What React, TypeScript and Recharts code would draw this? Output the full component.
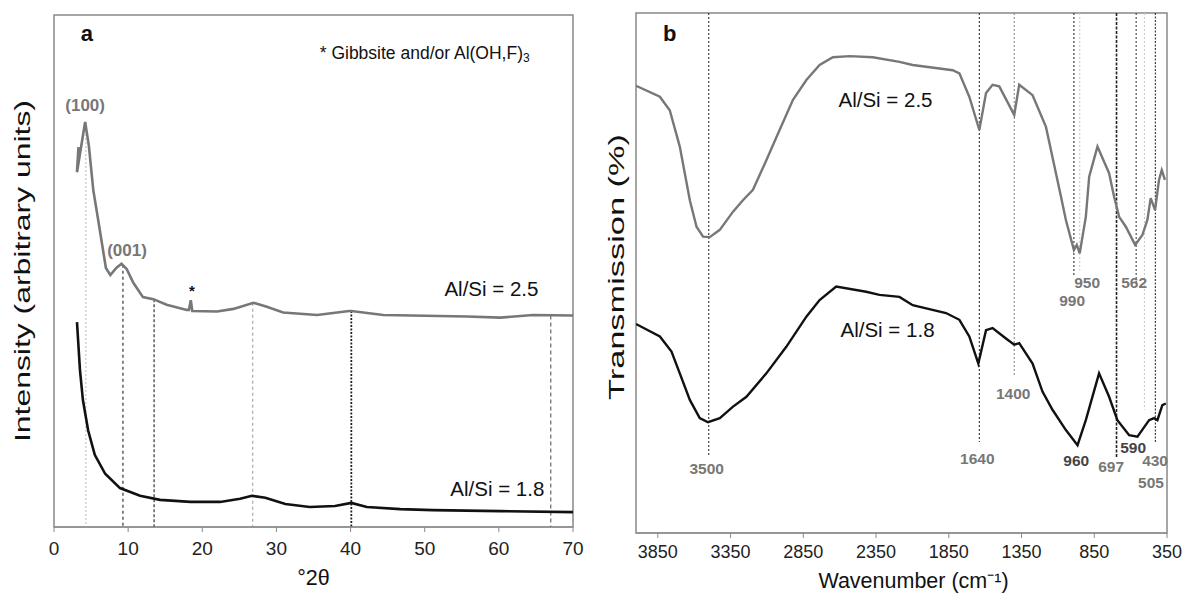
import React from 'react';
import { LineChart, Line, XAxis, YAxis, ReferenceLine, ReferenceArea, ReferenceDot } from 'recharts';

// ---------- Panel a (XRD) ----------
const xrdX25 = [3.3, 3.1, 4.2, 4.7, 5.3, 5.9, 7.0, 7.6, 8.4, 9.1, 9.8, 10.7, 12.0, 13.4, 15.2, 17.9, 18.2, 18.45, 18.65, 22.0, 24.2, 26.9, 28.7, 30.9, 35.5, 39.8, 40.1, 44.4, 55.7, 60.2, 64.6, 70];
const xrdY25 = [74.2, 69.3, 79.1, 74.5, 65.8, 60.5, 50.6, 49.2, 50.6, 51.4, 50.4, 47.7, 44.9, 44.5, 43.4, 42.4, 42.4, 44.3, 42.2, 42.1, 42.6, 43.8, 43.0, 41.9, 41.4, 42.2, 42.2, 41.4, 41.1, 40.9, 41.4, 41.3];
const xrdX18 = [3.1, 3.5, 3.9, 4.6, 5.5, 6.9, 8.9, 11.6, 14.3, 18.4, 22.4, 25.1, 26.7, 28.5, 31.2, 34.5, 37.9, 40.1, 42.2, 46.7, 51.1, 60.2, 70];
const xrdY18 = [40.0, 30.7, 24.8, 18.9, 14.1, 10.4, 7.6, 6.1, 5.3, 4.9, 4.9, 5.5, 6.1, 5.7, 4.5, 3.9, 4.1, 4.7, 3.9, 3.5, 3.3, 3.1, 2.9];
const xrdTicks = [0, 10, 20, 30, 40, 50, 60, 70];
const xrdMarkX = [4.3, 9.3, 13.5, 26.8, 40.1, 67];
const xrdMarkTop = [79.1, 51.2, 44.5, 43.8, 42.2, 41.3];
const xrdMarkColor = ['#c4c4c4', '#333333', '#333333', '#aaaaaa', '#222222', '#666666'];
const xrdMarkDash = ['2 2', '3 3', '3 2', '3 3', '2 1.5', '4 3'];

// ---------- Panel b (FTIR) ----------
const irX25 = [4000, 3836, 3768, 3699, 3630, 3584, 3539, 3493, 3424, 3333, 3265, 3196, 3104, 3013, 2921, 2829, 2738, 2647, 2532, 2372, 2189, 2098, 1823, 1777, 1709, 1640, 1594, 1549, 1503, 1400, 1366, 1274, 1182, 1079, 1045, 990, 970, 950, 908, 885, 828, 748, 714, 679, 633, 569, 519, 485, 462, 432, 405, 386, 364];
const irY25 = [86.0, 83.9, 81.3, 74.3, 64.0, 58.9, 57.0, 56.9, 58.3, 61.8, 64.0, 66.0, 71.7, 77.5, 83.3, 87.1, 90.0, 91.5, 91.7, 91.5, 90.6, 90.0, 89.0, 88.4, 83.9, 77.5, 84.6, 86.2, 85.9, 80.4, 86.2, 84.2, 78.1, 64.7, 60.2, 54.4, 55.4, 53.8, 60.8, 68.5, 74.3, 69.2, 64.7, 60.8, 58.9, 55.4, 57.3, 60.2, 64.4, 62.1, 67.9, 69.8, 67.9];
const irX18 = [4000, 3836, 3756, 3699, 3630, 3562, 3505, 3424, 3333, 3241, 3104, 2967, 2829, 2738, 2624, 2418, 2326, 2189, 2098, 1869, 1777, 1709, 1647, 1594, 1549, 1457, 1400, 1366, 1274, 1206, 1137, 1045, 965, 908, 817, 748, 691, 610, 553, 473, 439, 416, 382, 358];
const irY18 = [40.2, 37.8, 34.9, 30.7, 25.6, 22.1, 21.3, 22.1, 24.3, 26.2, 30.7, 35.8, 41.6, 44.8, 47.4, 46.4, 45.8, 45.4, 43.8, 42.3, 41.0, 37.8, 32.6, 39.0, 39.4, 37.4, 36.2, 36.5, 32.6, 27.2, 23.7, 19.8, 16.9, 21.7, 30.7, 26.2, 21.7, 18.8, 18.5, 21.7, 22.1, 21.7, 24.6, 24.9];
const irTicks = [3850, 3350, 2850, 2350, 1850, 1350, 850, 350];
const irMarkX = [3500, 1640, 1400, 990, 950, 697, 562, 505, 430];
const irMarkBottom = [15.0, 17.5, 30.0, 49.6, 50.6, 14.6, 48.1, 23.7, 17.5];
const irMarkColor = ['#333333', '#333333', '#888888', '#333333', '#c8c8c8', '#222222', '#444444', '#c8c8c8', '#333333'];
const irMarkDash = ['2 2', '2 2', '2 2', '2 2', '2 2', '3 1.5', '2 2', '2 2', '2 1.5'];
const irPeakText = ['3500', '1640', '1400', '960', '697', '590', '430', '505', '950', '990', '562'];
const irPeakX = [3514, 1654, 1407, 974, 734, 583, 432, 460, 899, 1002, 576];
const irPeakY = [12.5, 14.4, 26.9, 14.0, 12.7, 16.5, 14.0, 9.8, 48.1, 44.8, 48.1];
const irPeakColor = ['#777777', '#777777', '#777777', '#444444', '#777777', '#444444', '#777777', '#777777', '#777777', '#777777', '#777777'];

const FONT = '"Liberation Sans", Arial, sans-serif';

const zip = (xs: number[], ys: number[]) => xs.map((x, i) => ({ x, y: ys[i] }));

const dataA25 = zip(xrdX25, xrdY25);
const dataA18 = zip(xrdX18, xrdY18);
const dataB25 = zip(irX25, irY25);
const dataB18 = zip(irX18, irY18);

const txt = (value: string, fill = '#111', size = 16, weight: any = 'normal') => ({
  value,
  position: 'center' as const,
  fill,
  fontSize: size,
  fontWeight: weight,
  fontFamily: FONT,
});

const rotLabel = (text: string, xpos: number, len: number, cyOff: number) => (props: any) => {
  const vb = props.viewBox || {};
  const cy = (vb.y || 0) + (vb.height || 0) / 2 + cyOff;
  return (
    <text
      x={xpos}
      y={cy}
      transform={`rotate(-90, ${xpos}, ${cy})`}
      textAnchor="middle"
      dominantBaseline="central"
      fontFamily={FONT}
      fontSize={22}
      textLength={len}
      lengthAdjust="spacingAndGlyphs"
      fill="#111"
    >
      {text}
    </text>
  );
};

const xTitle = (text: string, dx: number, dy: number) => (props: any) => {
  const vb = props.viewBox || {};
  const cx = (vb.x || 0) + (vb.width || 0) / 2 + dx;
  const cy = (vb.y || 0) + dy;
  return (
    <text x={cx} y={cy} textAnchor="middle" dominantBaseline="central" fontFamily={FONT} fontSize={21.5} fill="#111">
      {text}
    </text>
  );
};

const gibbsiteLabel = (props: any) => {
  const vb = props.viewBox || {};
  const cx = vb.x + (vb.width || 0) / 2;
  const cy = vb.y + (vb.height || 0) / 2;
  return (
    <text x={cx} y={cy} textAnchor="middle" dominantBaseline="central" fontFamily={FONT} fontSize={17.5} fill="#111">
      <tspan>* Gibbsite and/or Al(OH,F)</tspan>
      <tspan fontSize={12} dy={5}>3</tspan>
    </text>
  );
};

const hiddenDot = { r: 1, fill: 'none', stroke: 'none' };

export default function App() {
  return (
    <div style={{ position: 'absolute', left: 0, top: 0, width: 1184, height: 599, background: '#fff' }}>
      <div style={{ position: 'absolute', left: 0, top: 0 }}>
        <LineChart width={600} height={599} margin={{ top: 15, right: 27, bottom: 42, left: 0 }}>
          <XAxis
            type="number"
            dataKey="x"
            domain={[0, 70]}
            ticks={xrdTicks}
            allowDataOverflow
            height={30}
            stroke="#888"
            tickSize={5}
            tickMargin={10}
            tick={{ fill: '#222', fontSize: 19, fontFamily: FONT }}
            label={xTitle('°2θ', 0, 51)}
          />
          <YAxis
            type="number"
            dataKey="y"
            domain={[0, 100]}
            width={54}
            tick={false}
            axisLine={false}
            tickLine={false}
            label={rotLabel('Intensity (arbitrary units)', 22, 342, 0)}
          />
          <ReferenceArea x1={0} x2={70} y1={0} y2={100} fill="none" stroke="#888" strokeWidth={1.5} />
          {xrdMarkX.map((mx, i) => (
            <ReferenceLine
              key={'ma' + i}
              segment={[{ x: mx, y: xrdMarkTop[i] }, { x: mx, y: 0 }]}
              stroke={xrdMarkColor[i]}
              strokeDasharray={xrdMarkDash[i]}
              strokeWidth={i === 4 ? 1.8 : 1.2}
            />
          ))}
          <Line data={dataA25} dataKey="y" type="linear" stroke="#777" strokeWidth={2.6} dot={false} isAnimationActive={false} />
          <Line data={dataA18} dataKey="y" type="linear" stroke="#111" strokeWidth={2.6} dot={false} isAnimationActive={false} />
          <ReferenceDot x={4.45} y={96.5} {...hiddenDot} label={txt('a', '#111', 22, 'bold')} />
          <ReferenceDot x={50.0} y={92.6} {...hiddenDot} label={gibbsiteLabel} />
          <ReferenceDot x={4.2} y={82.4} {...hiddenDot} label={txt('(100)', '#777', 17, 'bold')} />
          <ReferenceDot x={9.85} y={54.1} {...hiddenDot} label={txt('(001)', '#777', 17, 'bold')} />
          <ReferenceDot x={18.6} y={46.1} {...hiddenDot} label={txt('*', '#111', 15, 'bold')} />
          <ReferenceDot x={59.0} y={46.5} {...hiddenDot} label={txt('Al/Si = 2.5', '#111', 20.5)} />
          <ReferenceDot x={59.8} y={7.4} {...hiddenDot} label={txt('Al/Si = 1.8', '#111', 20.5)} />
        </LineChart>
      </div>
      <div style={{ position: 'absolute', left: 600, top: 0 }}>
        <LineChart width={584} height={599} margin={{ top: 13, right: 17, bottom: 36, left: 0 }}>
          <XAxis
            type="number"
            dataKey="x"
            domain={[350, 4000]}
            reversed
            ticks={irTicks}
            allowDataOverflow
            height={30}
            stroke="#888"
            tickSize={5}
            tickMargin={7}
            tick={{ fill: '#222', fontSize: 18, fontFamily: FONT }}
            label={xTitle('Wavenumber (cm⁻¹)', 12, 48)}
          />
          <YAxis
            type="number"
            dataKey="y"
            domain={[0, 100]}
            width={36}
            tick={false}
            axisLine={false}
            tickLine={false}
            label={rotLabel('Transmission (%)', 16, 266, -6)}
          />
          <ReferenceArea x1={350} x2={4000} y1={0} y2={100} fill="none" stroke="#888" strokeWidth={1.5} />
          {irMarkX.map((mx, i) => (
            <ReferenceLine
              key={'mb' + i}
              segment={[{ x: mx, y: 100 }, { x: mx, y: irMarkBottom[i] }]}
              stroke={irMarkColor[i]}
              strokeDasharray={irMarkDash[i]}
              strokeWidth={i === 5 ? 1.6 : 1.1}
            />
          ))}
          <Line data={dataB25} dataKey="y" type="linear" stroke="#777" strokeWidth={2.4} dot={false} isAnimationActive={false} />
          <Line data={dataB18} dataKey="y" type="linear" stroke="#111" strokeWidth={2.4} dot={false} isAnimationActive={false} />
          <ReferenceDot x={3768} y={96.2} {...hiddenDot} label={txt('b', '#111', 22, 'bold')} />
          <ReferenceDot x={2285} y={83.3} {...hiddenDot} label={txt('Al/Si = 2.5', '#111', 20.5)} />
          <ReferenceDot x={2271} y={39.0} {...hiddenDot} label={txt('Al/Si = 1.8', '#111', 20.5)} />
          {irPeakText.map((t, i) => (
            <ReferenceDot key={'pl' + i} x={irPeakX[i]} y={irPeakY[i]} {...hiddenDot} label={txt(t, irPeakColor[i], 15.5, 'bold')} />
          ))}
        </LineChart>
      </div>
    </div>
  );
}
